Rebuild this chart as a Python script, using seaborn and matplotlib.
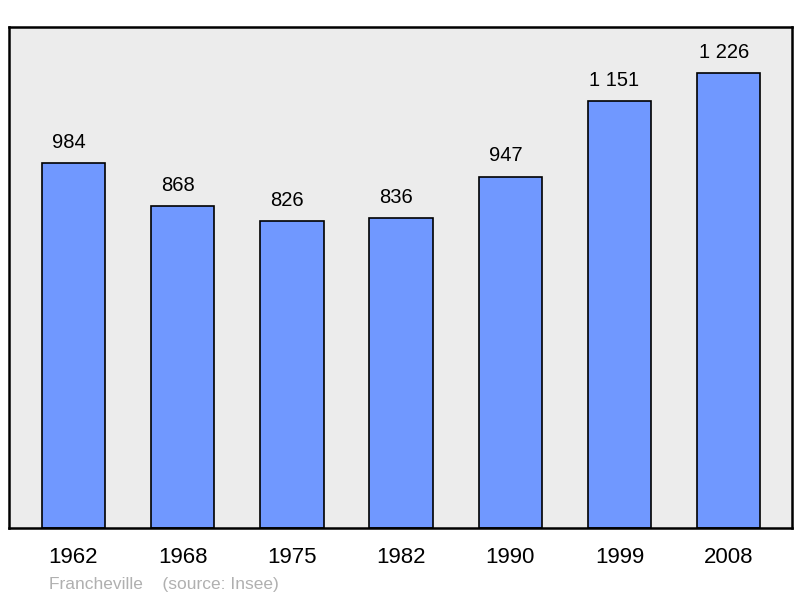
import matplotlib
matplotlib.use("Agg")
import matplotlib.pyplot as plt
import pandas as pd
import seaborn as sns

# donnees
years = ["1962", "1968", "1975", "1982", "1990", "1999", "2008"]
population = [984, 868, 826, 836, 947, 1151, 1226]
value_labels = ["984", "868", "826", "836", "947", "1 151", "1 226"]

df = pd.DataFrame({"annee": years, "population": population})

sns.set_style("white")
plt.rcParams["font.family"] = ["Liberation Sans", "DejaVu Sans"]

fig = plt.figure(figsize=(8.0, 5.98), dpi=100)
ax = fig.add_axes([9 / 800, 1 - 528 / 598, 783 / 800, 501 / 598])
ax.set_facecolor("#ececec")

sns.barplot(
    data=df,
    x="annee",
    y="population",
    color="#7098ff",
    saturation=1,
    width=0.58,
    edgecolor="black",
    linewidth=1.2,
    ax=ax,
)

# etiquettes legerement decalees a gauche comme dans l'original
for i, (val, lab) in enumerate(zip(population, value_labels)):
    ax.text(i - 0.045, val + 30, lab, ha="center", va="bottom",
            fontsize=14.5, color="black")

ax.set_xlim(-0.59, 6.58)
ax.set_ylim(0, 1350)
ax.set_yticks([])
ax.set_xlabel("")
ax.set_ylabel("")
ax.tick_params(axis="x", length=0, pad=14, labelsize=16, labelcolor="black")
for spine in ax.spines.values():
    spine.set_visible(True)
    spine.set_color("black")
    spine.set_linewidth(1.8)

fig.text(49 / 800, 1 - 584 / 598, "Francheville    (source: Insee)",
         ha="left", va="center", fontsize=12.5, color="#b0b0b0")

fig.savefig("out.png", dpi=100)
